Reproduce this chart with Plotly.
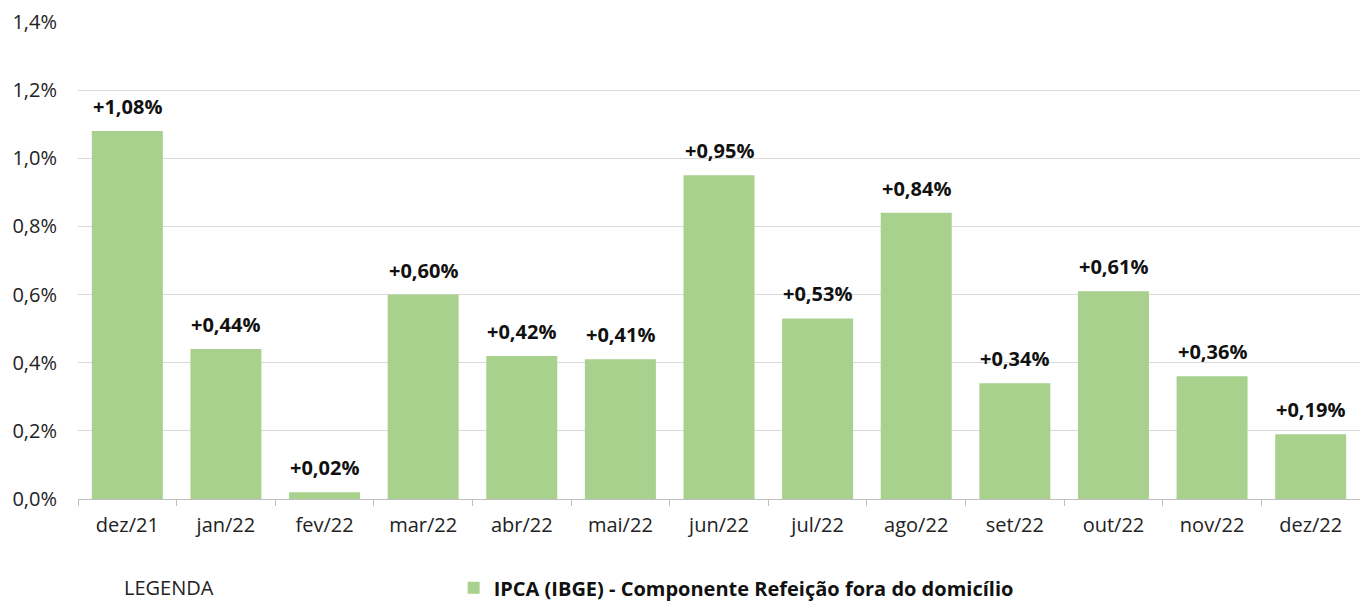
import plotly.graph_objects as go

# Monthly variation of the IPCA "Refeição fora do domicílio" component
meses = ["dez/21", "jan/22", "fev/22", "mar/22", "abr/22", "mai/22", "jun/22",
         "jul/22", "ago/22", "set/22", "out/22", "nov/22", "dez/22"]
variacao = [1.08, 0.44, 0.02, 0.60, 0.42, 0.41, 0.95, 0.53, 0.84, 0.34, 0.61, 0.36, 0.19]
y_ticks = [0.0, 0.2, 0.4, 0.6, 0.8, 1.0, 1.2, 1.4]
y_ticktext = ["0,0%", "0,2%", "0,4%", "0,6%", "0,8%", "1,0%", "1,2%", "1,4%"]
serie_nome = "IPCA (IBGE) - Componente Refeição fora do domicílio"

VERDE = "#A9D18E"
FONTE = "'Open Sans', 'Noto Sans', sans-serif"

def rotulo(v):
    return "+" + f"{v:.2f}".replace(".", ",") + "%"

fig = go.Figure()
fig.add_trace(go.Bar(
    x=meses, y=variacao, name="<b>" + serie_nome + "</b>",
    marker=dict(color=VERDE, line=dict(width=0)),
    hoverinfo="skip",
))

# value labels above each bar
for m, v in zip(meses, variacao):
    fig.add_annotation(
        x=m, y=v, text="<b>" + rotulo(v) + "</b>", showarrow=False,
        yanchor="bottom", yshift=9,
        font=dict(family=FONTE, size=20, color="#111111"),
    )

# legend caption
fig.add_annotation(
    xref="paper", yref="paper", x=0.0343, y=-0.186, xanchor="left", yanchor="middle",
    text="LEGENDA", showarrow=False,
    font=dict(family=FONTE, size=20, color="#222222"),
)

fig.update_layout(
    width=1360, height=604,
    margin=dict(l=78, r=0, t=22, b=105, autoexpand=False),
    paper_bgcolor="white", plot_bgcolor="white",
    bargap=0.28,
    font=dict(family=FONTE, size=20, color="#222222"),
    showlegend=True,
    legend=dict(
        orientation="h", x=0.293, xref="paper", y=-0.186, yref="paper",
        xanchor="left", yanchor="middle",
        font=dict(family=FONTE, size=20, color="#111111"),
        itemwidth=30, bgcolor="rgba(0,0,0,0)",
    ),
    xaxis=dict(
        type="category", showgrid=False, showline=True, linecolor="#BFBFBF", linewidth=1,
        ticks="outside", tickson="boundaries", ticklen=6, tickcolor="#BFBFBF",
        ticklabelstandoff=8, automargin=False,
        tickfont=dict(family=FONTE, size=20, color="#222222"),
        fixedrange=True,
    ),
    yaxis=dict(
        range=[0, 1.4], tickvals=y_ticks, ticktext=y_ticktext,
        showgrid=True, gridcolor="#D9D9D9", gridwidth=1, zeroline=False,
        showline=False, ticks="", ticklabelstandoff=20, automargin=False,
        tickfont=dict(family=FONTE, size=20, color="#222222"),
        fixedrange=True,
    ),
)

fig.write_html("out.html", config={"displayModeBar": False})
